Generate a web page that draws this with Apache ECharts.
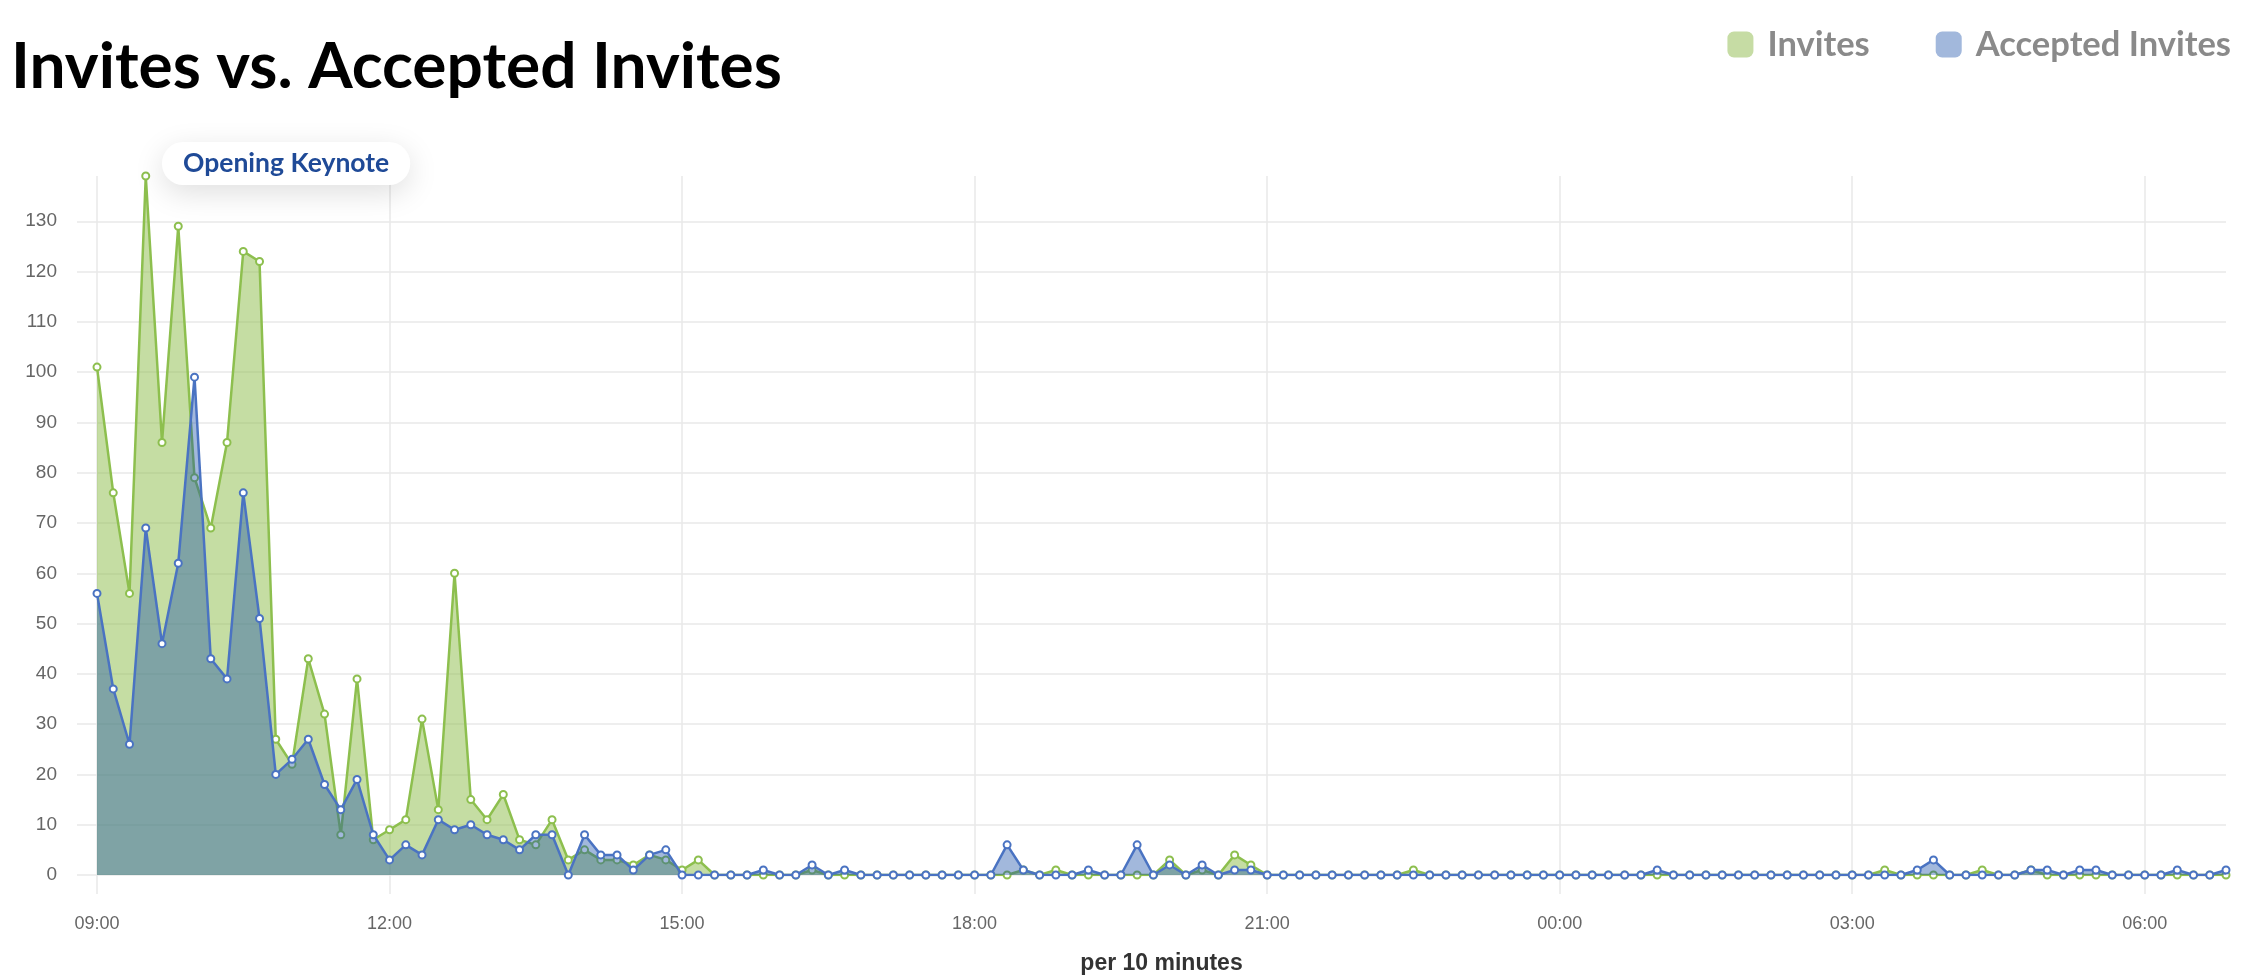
<!DOCTYPE html>
<html>
<head>
<meta charset="utf-8">
<style>
html,body{margin:0;padding:0;background:#fff;}
#chart{width:2263px;height:980px;}
</style>
<script src="https://cdn.jsdelivr.net/npm/echarts@6/dist/echarts.min.js"></script>
</head>
<body>
<div id="chart"></div>
<script>
var categories = [
 "09:00","09:10","09:20","09:30","09:40","09:50",
 "10:00","10:10","10:20","10:30","10:40","10:50",
 "11:00","11:10","11:20","11:30","11:40","11:50",
 "12:00","12:10","12:20","12:30","12:40","12:50",
 "13:00","13:10","13:20","13:30","13:40","13:50",
 "14:00","14:10","14:20","14:30","14:40","14:50",
 "15:00","15:10","15:20","15:30","15:40","15:50",
 "16:00","16:10","16:20","16:30","16:40","16:50",
 "17:00","17:10","17:20","17:30","17:40","17:50",
 "18:00","18:10","18:20","18:30","18:40","18:50",
 "19:00","19:10","19:20","19:30","19:40","19:50",
 "20:00","20:10","20:20","20:30","20:40","20:50",
 "21:00","21:10","21:20","21:30","21:40","21:50",
 "22:00","22:10","22:20","22:30","22:40","22:50",
 "23:00","23:10","23:20","23:30","23:40","23:50",
 "00:00","00:10","00:20","00:30","00:40","00:50",
 "01:00","01:10","01:20","01:30","01:40","01:50",
 "02:00","02:10","02:20","02:30","02:40","02:50",
 "03:00","03:10","03:20","03:30","03:40","03:50",
 "04:00","04:10","04:20","04:30","04:40","04:50",
 "05:00","05:10","05:20","05:30","05:40","05:50",
 "06:00","06:10","06:20","06:30","06:40","06:50"
];

var invites = [
 101,76,56,139,86,129,79,69,86,124,122,27,
 22,43,32,8,39,7,9,11,31,13,60,15,
 11,16,7,6,11,3,5,3,3,2,4,3,
 1,3,0,0,0,0,0,0,1,0,0,0,
 0,0,0,0,0,0,0,0,0,1,0,1,
 0,0,0,0,0,0,3,0,1,0,4,2,
 0,0,0,0,0,0,0,0,0,1,0,0,
 0,0,0,0,0,0,0,0,0,0,0,0,
 0,0,0,0,0,0,0,0,0,0,0,0,
 0,0,1,0,0,0,0,0,1,0,0,1,
 0,0,0,0,0,0,0,0,0,0,0,0
];

var accepted = [
 56,37,26,69,46,62,99,43,39,76,51,20,
 23,27,18,13,19,8,3,6,4,11,9,10,
 8,7,5,8,8,0,8,4,4,1,4,5,
 0,0,0,0,0,1,0,0,2,0,1,0,
 0,0,0,0,0,0,0,0,6,1,0,0,
 0,1,0,0,6,0,2,0,2,0,1,1,
 0,0,0,0,0,0,0,0,0,0,0,0,
 0,0,0,0,0,0,0,0,0,0,0,0,
 1,0,0,0,0,0,0,0,0,0,0,0,
 0,0,0,0,1,3,0,0,0,0,0,1,
 1,0,1,1,0,0,0,0,1,0,0,1
];

var seriesNames = ["Invites", "Accepted Invites"];
var chartTitle = "Invites vs. Accepted Invites";
var annotationText = "Opening Keynote";
var xAxisName = "per 10 minutes";

var GREEN = "#8dbf4e";
var BLUE = "#4a73c2";
var gridColor = "#e9e9e9";
var labelFont = "'Liberation Sans', Arial, Helvetica, sans-serif";

var chart = echarts.init(document.getElementById("chart"), null, {renderer: "canvas"});
chart.setOption({
  animation: false,
  backgroundColor: "#fff",
  title: [
    {
      text: chartTitle,
      left: 11, top: 35, padding: 0,
      textStyle: {fontFamily: "Lato", fontWeight: "bold", fontSize: 64, color: "#000", lineHeight: 64}
    },
    {
      text: annotationText,
      left: 162, top: 143,
      padding: [8, 21, 8, 21],
      backgroundColor: "#fff",
      borderRadius: 21,
      shadowBlur: 30,
      shadowColor: "rgba(0,0,0,0.13)",
      shadowOffsetY: 8,
      textStyle: {fontFamily: "Lato", fontWeight: "bold", fontSize: 26.5, color: "#1f4a97", lineHeight: 25}
    }
  ],
  legend: {
    right: 32, top: 27, padding: 0,
    itemWidth: 26, itemHeight: 26, itemGap: 66,
    icon: "roundRect",
    textStyle: {fontFamily: "Lato", fontWeight: "bold", fontSize: 34.5, color: "#8a8a8a", padding: [0, 0, 0, 9]},
    data: [
      {name: seriesNames[0], itemStyle: {color: "#c6dca4"}},
      {name: seriesNames[1], itemStyle: {color: "#a2b8dc"}}
    ]
  },
  grid: {left: 97, right: 37, top: 176, bottom: 97, containLabel: false},
  xAxis: {
    type: "category",
    data: categories,
    boundaryGap: false,
    name: xAxisName,
    nameLocation: "middle",
    nameGap: 77,
    nameTextStyle: {fontFamily: labelFont, fontWeight: "bold", fontSize: 23, color: "#333"},
    axisLine: {show: false},
    axisTick: {show: true, interval: 17, length: 19, lineStyle: {color: gridColor, width: 1.5}},
    axisLabel: {interval: 17, margin: 40, fontFamily: labelFont, fontSize: 18, color: "#666"},
    splitLine: {show: true, interval: 17, lineStyle: {color: gridColor, width: 1.5}}
  },
  yAxis: {
    type: "value",
    min: 0, max: 139, interval: 10,
    axisLine: {show: false},
    axisTick: {show: true, length: 20, lineStyle: {color: gridColor, width: 1.5}},
    axisLabel: {margin: 40, fontFamily: labelFont, fontSize: 19, color: "#666", showMaxLabel: false},
    splitLine: {show: true, showMaxLine: false, lineStyle: {color: gridColor, width: 1.5}}
  },
  series: [
    {
      name: seriesNames[0],
      type: "line",
      data: invites,
      symbol: "emptyCircle",
      symbolSize: 7,
      showAllSymbol: true,
      itemStyle: {color: GREEN, borderWidth: 2},
      lineStyle: {color: GREEN, width: 2.5},
      areaStyle: {color: "rgba(139,188,72,0.5)", opacity: 1, origin: "start"},
      z: 2
    },
    {
      name: seriesNames[1],
      type: "line",
      data: accepted,
      symbol: "emptyCircle",
      symbolSize: 7,
      showAllSymbol: true,
      itemStyle: {color: BLUE, borderWidth: 2},
      lineStyle: {color: BLUE, width: 2.5},
      areaStyle: {color: "rgba(22,78,167,0.4)", opacity: 1, origin: "start"},
      z: 3
    }
  ]
});
</script>
</body>
</html>
